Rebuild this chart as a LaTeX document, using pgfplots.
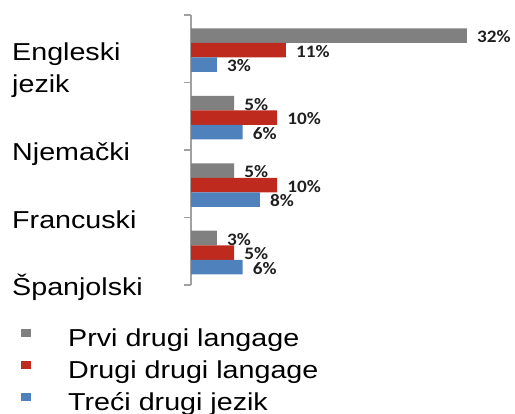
\documentclass[border=0pt]{standalone}
\usepackage{pgfplots}
\pgfplotsset{compat=1.18}
\usepackage{fontspec}
\setmainfont{Liberation Sans}
\newfontfamily\catfont[FakeStretch=1.17]{Liberation Sans}
\newfontfamily\lblfont[FakeStretch=1.1]{Carlito}
\definecolor{cgray}{HTML}{808080}
\definecolor{cred}{HTML}{BE2A1E}
\definecolor{cblue}{HTML}{4F81BD}
\definecolor{axgray}{HTML}{A0A0A0}
\begin{document}
\begin{tikzpicture}
\useasboundingbox (0bp,0bp) rectangle (515bp,414bp);
\begin{axis}[
  scale only axis, width=301.875bp, height=270bp,
  at={(191bp,129bp)}, anchor=south west,
  xbar=0pt, bar width=14.5bp,
  xmin=0, xmax=35, ymin=-0.5, ymax=3.5,
  hide x axis, axis y line*=left,
  ytick={-0.5,0.5,1.5,2.5,3.5}, yticklabels={},
  tick align=outside, major tick length=7bp,
  y axis line style={draw=axgray, line width=1.2bp},
  tick style={draw=axgray, line width=1.2bp},
  clip=false,
  /pgf/number format/assume math mode=true,
  nodes near coords={\pgfmathprintnumber{\pgfplotspointmeta}\%},
  every node near coord/.append style={font=\lblfont\bfseries\fontsize{17.5bp}{17.5bp}\selectfont, text=black!88, inner sep=0pt, xshift=10bp, yshift=-1.5bp, anchor=west},
  legend style={at={(axis description cs:-0.5631,-0.1593)}, anchor=north west, draw=none, fill=none, inner sep=0pt,
    font=\catfont\fontsize{24.5bp}{30bp}\selectfont, row sep=8bp, column sep=0pt,
    nodes={inner sep=0pt, text height=18bp, text depth=6bp}},
  legend cell align=left,
  legend image code/.code={\fill (0bp,3.5bp) rectangle (10bp,11.5bp); \path[draw=none,fill=none] (0bp,0bp) rectangle (47bp,0.1bp);},
]
\addplot[fill=cgray, draw=none, bar shift=13.25bp] coordinates {(32,3) (5,2) (5,1) (3,0)};
\addlegendentry{Prvi drugi langage}
\addplot[fill=cred, draw=none, bar shift=-1.25bp] coordinates {(11,3) (10,2) (10,1) (5,0)};
\addlegendentry{Drugi drugi langage}
\addplot[fill=cblue, draw=none, bar shift=-15.75bp] coordinates {(3,3) (6,2) (8,1) (6,0)};
\addlegendentry{Treći drugi jezik}
\end{axis}
\begin{scope}[every node/.style={anchor=base west, inner sep=0pt, font=\catfont\fontsize{24.5bp}{30bp}\selectfont}]
\node at (12bp,353bp) {Engleski};
\node at (12bp,321.5bp) {jezik};
\node at (12bp,253bp) {Njemački};
\node at (12bp,185bp) {Francuski};
\node at (12bp,118bp) {Španjolski};
\end{scope}
\end{tikzpicture}
\end{document}
